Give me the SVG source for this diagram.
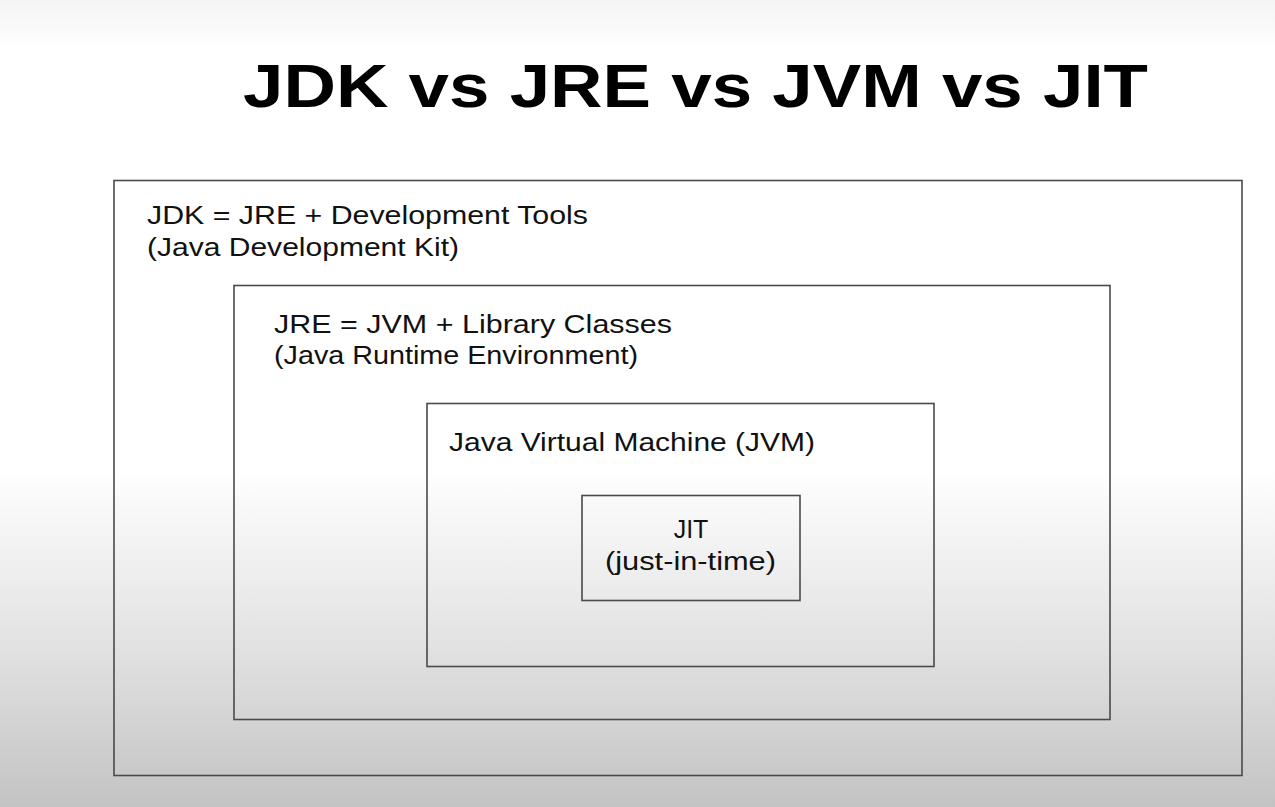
<svg xmlns="http://www.w3.org/2000/svg" width="1275" height="807" viewBox="0 0 1275 807">
<defs>
<linearGradient id="bg" x1="0" y1="0" x2="0" y2="1">
<stop offset="0" stop-color="#f4f4f4"/>
<stop offset="0.06" stop-color="#ffffff"/>
<stop offset="0.58" stop-color="#ffffff"/>
<stop offset="0.8" stop-color="#e2e2e2"/>
<stop offset="1" stop-color="#c3c3c3"/>
</linearGradient>
</defs>
<style>
.box{fill:none;stroke:#4a4a4a;stroke-width:1.6}
.lbl{font-family:"Liberation Sans",Arial,sans-serif;font-size:25px;fill:#111}
.title{font-family:"Liberation Sans",Arial,sans-serif;font-size:62px;font-weight:bold;fill:#000}
</style>
<rect x="0" y="0" width="1275" height="807" fill="url(#bg)"/>
<text class="title" x="243" y="107" textLength="905" lengthAdjust="spacingAndGlyphs">JDK vs JRE vs JVM vs JIT</text>
<g id="jdk">
<rect class="box" x="114" y="180.5" width="1128" height="595"/>
<text class="lbl" x="147" y="224" textLength="441" lengthAdjust="spacingAndGlyphs">JDK = JRE + Development Tools</text>
<text class="lbl" x="147" y="256" textLength="312" lengthAdjust="spacingAndGlyphs">(Java Development Kit)</text>
</g>
<g id="jre">
<rect class="box" x="234" y="285.5" width="876" height="434"/>
<text class="lbl" x="274" y="333" textLength="398" lengthAdjust="spacingAndGlyphs">JRE = JVM + Library Classes</text>
<text class="lbl" x="274" y="364" textLength="364" lengthAdjust="spacingAndGlyphs">(Java Runtime Environment)</text>
</g>
<g id="jvm">
<rect class="box" x="427" y="403.5" width="507" height="263"/>
<text class="lbl" x="449" y="451" textLength="366" lengthAdjust="spacingAndGlyphs">Java Virtual Machine (JVM)</text>
</g>
<g id="jit">
<rect class="box" x="582" y="495.5" width="218" height="105"/>
<text class="lbl" x="691" y="538" text-anchor="middle">JIT</text>
<text class="lbl" x="605" y="570" textLength="171" lengthAdjust="spacingAndGlyphs">(just-in-time)</text>
</g>
<g id="connectors"></g>
</svg>
